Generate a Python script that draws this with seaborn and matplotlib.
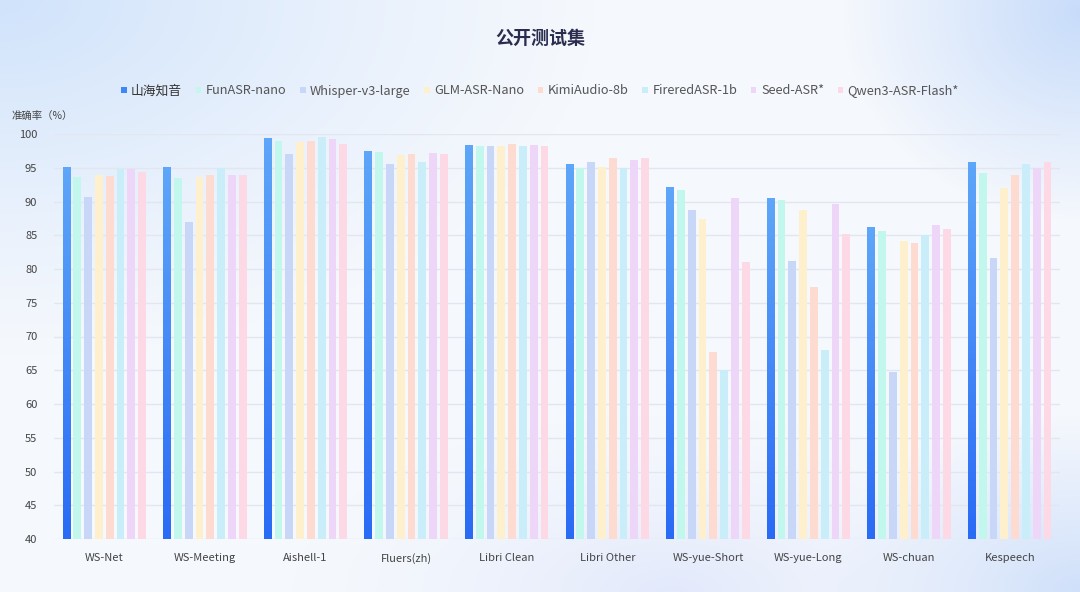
import numpy as np
import pandas as pd
import matplotlib
matplotlib.use("Agg")
import matplotlib.pyplot as plt
import seaborn as sns
from matplotlib.colors import LinearSegmentedColormap
from matplotlib.patches import Patch

categories = ["WS-Net", "WS-Meeting", "Aishell-1", "Fluers(zh)", "Libri Clean",
              "Libri Other", "WS-yue-Short", "WS-yue-Long", "WS-chuan", "Kespeech"]
models = ["山海知音", "FunASR-nano", "Whisper-v3-large", "GLM-ASR-Nano",
          "KimiAudio-8b", "FireredASR-1b", "Seed-ASR*", "Qwen3-ASR-Flash*"]

shanhai = [95.1, 95.1, 99.4, 97.5, 98.4, 95.5, 92.2, 90.5, 86.2, 95.9]
funasr = [93.7, 93.5, 99.0, 97.4, 98.2, 95.0, 91.7, 90.2, 85.6, 94.2]
whisper = [90.7, 87.0, 97.1, 95.6, 98.2, 95.8, 88.8, 81.2, 64.7, 81.6]
glm = [93.9, 93.6, 98.8, 96.9, 98.2, 95.1, 87.4, 88.7, 84.1, 92.0]
kimi = [93.8, 93.9, 99.0, 97.1, 98.5, 96.4, 67.7, 77.4, 83.8, 94.0]
firered = [94.8, 95.0, 99.6, 95.9, 98.2, 95.0, 65.1, 68.0, 85.0, 95.6]
seed = [94.8, 93.9, 99.3, 97.2, 98.4, 96.2, 90.5, 89.6, 86.5, 95.0]
qwen = [94.4, 94.0, 98.5, 97.1, 98.2, 96.5, 81.0, 85.2, 86.0, 95.9]

colors = ["#3f86f7", "#c2f7ee", "#c8d6f8", "#fef0cc", "#fddbd0",
          "#c9eefa", "#eed6f8", "#fdd8e5"]

series = [shanhai, funasr, whisper, glm, kimi, firered, seed, qwen]
rows = []
for m, vals in zip(models, series):
    for c, v in zip(categories, vals):
        rows.append({"cat": c, "model": m, "val": v})
df = pd.DataFrame(rows)

sns.set_theme(style="white")
plt.rcParams["font.family"] = ["Noto Sans CJK SC", "DejaVu Sans"]

fig = plt.figure(figsize=(10.8, 5.92), dpi=100)

# background gradient
bg = fig.add_axes([0, 0, 1, 1], zorder=-10)
H, W = 296, 540
yy, xx = np.mgrid[0:H, 0:W]
xn, yn = xx / W, yy / H
base = np.array([245, 248, 253], float)
img = np.ones((H, W, 3)) * base
w1 = np.clip(1 - np.sqrt((xn / 0.55) ** 2 + (yn / 0.6) ** 2), 0, 1) ** 1.2
c1 = np.array([208, 227, 251], float)
w2 = np.clip(1 - np.sqrt(((xn - 1.0) / 0.22) ** 2 + ((yn - 0.02) / 0.35) ** 2), 0, 1)
c2 = np.array([200, 220, 250], float)
w3 = np.clip(1 - np.sqrt(((xn - 1.0) / 0.25) ** 2 + ((yn - 1.0) / 0.3) ** 2), 0, 1)
c3 = np.array([208, 224, 250], float)
w4 = np.clip(1 - np.sqrt(((xn - 0.62) / 0.35) ** 2 + ((yn - 1.0) / 0.3) ** 2), 0, 1) ** 1.5
c4 = np.array([226, 233, 251], float)
for w, c in [(w1, c1), (w2, c2), (w3, c3), (w4, c4)]:
    img = img * (1 - w[..., None]) + c * w[..., None]
bg.imshow(img / 255.0, aspect="auto", extent=[0, 1, 0, 1])
bg.axis("off")

ax = fig.add_axes([54 / 1080, 1 - 539 / 592, 1006 / 1080, 405 / 592])
ax.patch.set_alpha(0)

sns.barplot(data=df, x="cat", y="val", hue="model", order=categories,
            hue_order=models, palette=colors, width=0.86, gap=0.27,
            saturation=1, ax=ax, legend=False, linewidth=0)

ax.set_ylim(40, 100)
ax.set_yticks(range(40, 101, 5))
ax.set_xlim(-0.5, len(categories) - 0.5)
ax.grid(axis="y", color="#e3e6ee", linewidth=1)
ax.set_axisbelow(True)
for s in ax.spines.values():
    s.set_visible(False)
ax.set_xlabel("")
ax.set_ylabel("")
ax.tick_params(axis="y", labelsize=8, colors="#444444", length=0, pad=12)
ax.tick_params(axis="x", labelsize=8, colors="#444444", length=0, pad=10)

# gradient fill on 山海知音 bars
grad = LinearSegmentedColormap.from_list("g", ["#2a6bf5", "#5ea6f9"])
nb = len(categories)
for p in ax.patches[:nb]:
    x0, w = p.get_x(), p.get_width()
    h = p.get_height()
    im = ax.imshow(np.linspace(0, 1, 100).reshape(-1, 1), cmap=grad,
                   extent=[x0, x0 + w, 40, h], origin="lower", aspect="auto",
                   zorder=p.get_zorder() + 0.1)
    im.set_clip_path(p)
ax.set_xlim(-0.5, len(categories) - 0.5)
ax.set_ylim(40, 100)
ax.set_aspect("auto")

fig.text(0.5, 1 - 38 / 592, "公开测试集", ha="center", va="center",
         fontsize=13, fontweight="bold", color="#2b2d4f")
fig.text(12 / 1080, 1 - 117 / 592, "准确率（%）", ha="left", va="center",
         fontsize=7.5, color="#444444")

handles = [Patch(facecolor=c, edgecolor="none") for c in colors]
leg = fig.legend(handles, models, loc="center", bbox_to_anchor=(0.5, 1 - 91 / 592),
                 ncol=8, frameon=False, fontsize=9.2, handlelength=0.45,
                 handleheight=0.45, handletextpad=0.35, columnspacing=1.05)
for t in leg.get_texts():
    t.set_color("#555555")
leg.get_texts()[0].set_color("#333333")

fig.savefig("out.png", dpi=100)
